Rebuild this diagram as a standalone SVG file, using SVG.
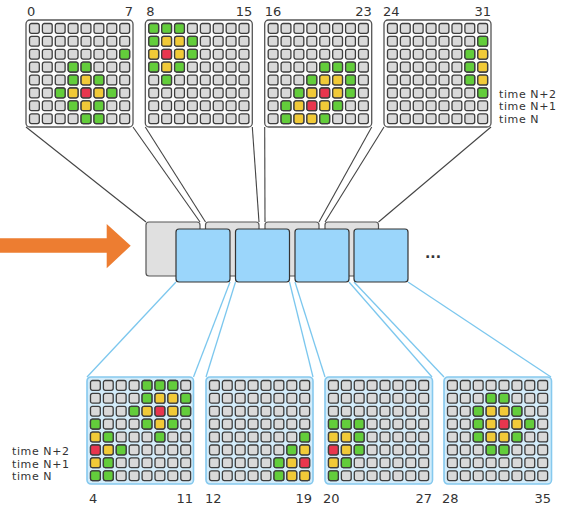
<svg xmlns="http://www.w3.org/2000/svg" xmlns:xlink="http://www.w3.org/1999/xlink" width="568" height="509" viewBox="0 0 568 509">
  <style>
    text { font-family: "DejaVu Sans", "Liberation Sans", sans-serif; fill: #333; }
    .num { font-size: 13px; }
    .time { font-size: 11px; letter-spacing: 0.6px; }
    .tp { fill: #fbfbfb; stroke: #555; stroke-width: 1.3; }
    .bp { fill: #d3ecfa; stroke: #86c9ee; stroke-width: 1.6; }
    .gb { fill: #e0e0e0; stroke: #555; stroke-width: 1.2; }
    .bb { fill: #9bd6fb; stroke: #333; stroke-width: 1.2; }
    .n { fill: #d9d9d9; }
    .g { fill: #63cd3b; }
    .y { fill: #f1ca38; }
    .r { fill: #e8364e; }
    .lk { stroke: #444; stroke-width: 1.1; fill: none; }
    .lb { stroke: #7cc7ee; stroke-width: 1.3; fill: none; }
  </style>
  <defs>
    <rect id="c" width="9.8" height="9.8" rx="2" stroke="#3d3d3d" stroke-width="1.3"/>
    <g id="row">
      <use href="#c" class="n" x="3.5"/>
      <use href="#c" class="n" x="16.4"/>
      <use href="#c" class="n" x="29.3"/>
      <use href="#c" class="n" x="42.2"/>
      <use href="#c" class="n" x="55.1"/>
      <use href="#c" class="n" x="68"/>
      <use href="#c" class="n" x="80.9"/>
      <use href="#c" class="n" x="93.8"/>
    </g>
    <g id="grid">
      <use href="#row" y="3.5"/>
      <use href="#row" y="16.4"/>
      <use href="#row" y="29.3"/>
      <use href="#row" y="42.2"/>
      <use href="#row" y="55.1"/>
      <use href="#row" y="68"/>
      <use href="#row" y="80.9"/>
      <use href="#row" y="93.8"/>
    </g>
  </defs>

  <!-- connectors -->
  <g id="connectors">
    <line class="lk" x1="26" y1="127" x2="146" y2="222"/>
    <line class="lk" x1="133" y1="127" x2="200" y2="222"/>
    <line class="lk" x1="145.3" y1="127" x2="205.5" y2="222"/>
    <line class="lk" x1="252.3" y1="127" x2="259" y2="222"/>
    <line class="lk" x1="264.7" y1="127" x2="265" y2="222"/>
    <line class="lk" x1="371.7" y1="127" x2="319" y2="222"/>
    <line class="lk" x1="384" y1="127" x2="325" y2="222"/>
    <line class="lk" x1="491" y1="127" x2="378.5" y2="222"/>

    <line class="lb" x1="176" y1="282" x2="87" y2="377"/>
    <line class="lb" x1="230" y1="282" x2="193.5" y2="377"/>
    <line class="lb" x1="235.5" y1="282" x2="206" y2="377"/>
    <line class="lb" x1="289.5" y1="282" x2="313" y2="377"/>
    <line class="lb" x1="295" y1="282" x2="325" y2="377"/>
    <line class="lb" x1="349" y1="282" x2="432" y2="377"/>
    <line class="lb" x1="354" y1="282" x2="444" y2="377"/>
    <line class="lb" x1="408" y1="282" x2="551" y2="377"/>
  </g>

  <!-- input arrow -->
  <polygon id="arrow" fill="#ed7d31" points="0,238.3 106.7,238.3 106.7,224 130.7,245.7 106.7,268.3 106.7,252.7 0,252.7"/>

  <!-- frame strip: grey back row, blue front row -->
  <g id="strip-back">
    <rect class="gb" x="146" y="222" width="54" height="54" rx="3"/>
    <rect class="gb" x="205.5" y="222" width="53.5" height="54" rx="3"/>
    <rect class="gb" x="265" y="222" width="54" height="54" rx="3"/>
    <rect class="gb" x="325" y="222" width="53.5" height="54" rx="3"/>
  </g>
  <g id="strip-front">
    <rect class="bb" x="176" y="229" width="54" height="53" rx="3"/>
    <rect class="bb" x="235.5" y="229" width="54" height="53" rx="3"/>
    <rect class="bb" x="295" y="229" width="54" height="53" rx="3"/>
    <rect class="bb" x="354" y="229" width="54" height="53" rx="3"/>
  </g>
  <text id="ellipsis" x="433" y="258" text-anchor="middle" style="font-size:14px;font-weight:bold">...</text>

  <!-- top panels -->
  <g id="top-0" transform="translate(26,20)">
    <rect class="tp" width="107" height="107" rx="4"/>
    <use href="#grid"/>
    <use href="#c" class="g" x="93.8" y="29.3"/>
    <use href="#c" class="g" x="42.2" y="42.2"/><use href="#c" class="g" x="55.1" y="42.2"/>
    <use href="#c" class="g" x="42.2" y="55.1"/><use href="#c" class="y" x="55.1" y="55.1"/><use href="#c" class="g" x="68" y="55.1"/>
    <use href="#c" class="g" x="29.3" y="68"/><use href="#c" class="y" x="42.2" y="68"/><use href="#c" class="r" x="55.1" y="68"/><use href="#c" class="y" x="68" y="68"/><use href="#c" class="g" x="80.9" y="68"/>
    <use href="#c" class="g" x="42.2" y="80.9"/><use href="#c" class="y" x="55.1" y="80.9"/><use href="#c" class="g" x="68" y="80.9"/>
    <use href="#c" class="g" x="55.1" y="93.8"/><use href="#c" class="g" x="68" y="93.8"/>
    <text class="num" x="1" y="-4">0</text>
    <text class="num" x="107" y="-4" text-anchor="end">7</text>
  </g>

  <g id="top-1" transform="translate(145.3,20)">
    <rect class="tp" width="107" height="107" rx="4"/>
    <use href="#grid"/>
    <use href="#c" class="g" x="3.5" y="3.5"/><use href="#c" class="g" x="16.4" y="3.5"/><use href="#c" class="g" x="29.3" y="3.5"/>
    <use href="#c" class="g" x="3.5" y="16.4"/><use href="#c" class="y" x="16.4" y="16.4"/><use href="#c" class="y" x="29.3" y="16.4"/><use href="#c" class="g" x="42.2" y="16.4"/>
    <use href="#c" class="y" x="3.5" y="29.3"/><use href="#c" class="r" x="16.4" y="29.3"/><use href="#c" class="y" x="29.3" y="29.3"/><use href="#c" class="g" x="42.2" y="29.3"/>
    <use href="#c" class="g" x="3.5" y="42.2"/><use href="#c" class="y" x="16.4" y="42.2"/><use href="#c" class="g" x="29.3" y="42.2"/>
    <use href="#c" class="g" x="16.4" y="55.1"/>
    <text class="num" x="1" y="-4">8</text>
    <text class="num" x="107" y="-4" text-anchor="end">15</text>
  </g>

  <g id="top-2" transform="translate(264.7,20)">
    <rect class="tp" width="107" height="107" rx="4"/>
    <use href="#grid"/>
    <use href="#c" class="g" x="55.1" y="42.2"/><use href="#c" class="g" x="68" y="42.2"/><use href="#c" class="g" x="80.9" y="42.2"/>
    <use href="#c" class="g" x="42.2" y="55.1"/><use href="#c" class="y" x="55.1" y="55.1"/><use href="#c" class="y" x="68" y="55.1"/><use href="#c" class="g" x="80.9" y="55.1"/>
    <use href="#c" class="g" x="29.3" y="68"/><use href="#c" class="y" x="42.2" y="68"/><use href="#c" class="r" x="55.1" y="68"/><use href="#c" class="y" x="68" y="68"/><use href="#c" class="g" x="80.9" y="68"/>
    <use href="#c" class="g" x="16.4" y="80.9"/><use href="#c" class="y" x="29.3" y="80.9"/><use href="#c" class="r" x="42.2" y="80.9"/><use href="#c" class="y" x="55.1" y="80.9"/><use href="#c" class="g" x="68" y="80.9"/>
    <use href="#c" class="g" x="16.4" y="93.8"/><use href="#c" class="y" x="29.3" y="93.8"/><use href="#c" class="y" x="42.2" y="93.8"/><use href="#c" class="g" x="55.1" y="93.8"/>
    <text class="num" x="0" y="-4">16</text>
    <text class="num" x="107" y="-4" text-anchor="end">23</text>
  </g>

  <g id="top-3" transform="translate(384,20)">
    <rect class="tp" width="107" height="107" rx="4"/>
    <use href="#grid"/>
    <use href="#c" class="g" x="93.8" y="16.4"/>
    <use href="#c" class="g" x="80.9" y="29.3"/><use href="#c" class="y" x="93.8" y="29.3"/>
    <use href="#c" class="g" x="80.9" y="42.2"/><use href="#c" class="y" x="93.8" y="42.2"/>
    <use href="#c" class="g" x="80.9" y="55.1"/><use href="#c" class="y" x="93.8" y="55.1"/>
    <use href="#c" class="g" x="93.8" y="68"/>
    <text class="num" x="-1" y="-4">24</text>
    <text class="num" x="107" y="-4" text-anchor="end">31</text>
  </g>

  <!-- time legend, three lines in one block -->
  <text id="top-time" class="time">
    <tspan x="499" y="97.5">time N+2</tspan>
    <tspan x="499" y="110">time N+1</tspan>
    <tspan x="499" y="122.5">time N</tspan>
  </text>

  <!-- bottom panels -->
  <g id="bottom-0" transform="translate(87,377)">
    <rect class="bp" width="106.5" height="107" rx="4"/>
    <use href="#grid"/>
    <use href="#c" class="g" x="55.1" y="3.5"/><use href="#c" class="g" x="68" y="3.5"/><use href="#c" class="g" x="80.9" y="3.5"/>
    <use href="#c" class="g" x="55.1" y="16.4"/><use href="#c" class="y" x="68" y="16.4"/><use href="#c" class="y" x="80.9" y="16.4"/><use href="#c" class="g" x="93.8" y="16.4"/>
    <use href="#c" class="g" x="42.2" y="29.3"/><use href="#c" class="y" x="55.1" y="29.3"/><use href="#c" class="r" x="68" y="29.3"/><use href="#c" class="y" x="80.9" y="29.3"/><use href="#c" class="g" x="93.8" y="29.3"/>
    <use href="#c" class="g" x="3.5" y="42.2"/><use href="#c" class="g" x="55.1" y="42.2"/><use href="#c" class="y" x="68" y="42.2"/><use href="#c" class="g" x="80.9" y="42.2"/>
    <use href="#c" class="y" x="3.5" y="55.1"/><use href="#c" class="g" x="16.4" y="55.1"/><use href="#c" class="g" x="68" y="55.1"/>
    <use href="#c" class="r" x="3.5" y="68"/><use href="#c" class="y" x="16.4" y="68"/><use href="#c" class="g" x="29.3" y="68"/>
    <use href="#c" class="y" x="3.5" y="80.9"/><use href="#c" class="g" x="16.4" y="80.9"/>
    <use href="#c" class="g" x="3.5" y="93.8"/><use href="#c" class="g" x="16.4" y="93.8"/>
    <text class="num" x="2" y="126">4</text>
    <text class="num" x="106" y="126" text-anchor="end">11</text>
  </g>

  <g id="bottom-1" transform="translate(206,377)">
    <rect class="bp" width="107" height="107" rx="4"/>
    <use href="#grid"/>
    <use href="#c" class="g" x="93.8" y="55.1"/>
    <use href="#c" class="g" x="80.9" y="68"/><use href="#c" class="y" x="93.8" y="68"/>
    <use href="#c" class="g" x="68" y="80.9"/><use href="#c" class="y" x="80.9" y="80.9"/><use href="#c" class="r" x="93.8" y="80.9"/>
    <use href="#c" class="g" x="68" y="93.8"/><use href="#c" class="y" x="80.9" y="93.8"/><use href="#c" class="y" x="93.8" y="93.8"/>
    <text class="num" x="-1" y="126">12</text>
    <text class="num" x="106" y="126" text-anchor="end">19</text>
  </g>

  <g id="bottom-2" transform="translate(325,377)">
    <rect class="bp" width="107.5" height="107" rx="4"/>
    <use href="#grid"/>
    <use href="#c" class="g" x="3.5" y="42.2"/><use href="#c" class="g" x="16.4" y="42.2"/><use href="#c" class="g" x="29.3" y="42.2"/>
    <use href="#c" class="y" x="3.5" y="55.1"/><use href="#c" class="y" x="16.4" y="55.1"/><use href="#c" class="g" x="29.3" y="55.1"/>
    <use href="#c" class="r" x="3.5" y="68"/><use href="#c" class="y" x="16.4" y="68"/><use href="#c" class="g" x="29.3" y="68"/>
    <use href="#c" class="y" x="3.5" y="80.9"/><use href="#c" class="g" x="16.4" y="80.9"/>
    <use href="#c" class="g" x="3.5" y="93.8"/>
    <text class="num" x="-2" y="126">20</text>
    <text class="num" x="107" y="126" text-anchor="end">27</text>
  </g>

  <g id="bottom-3" transform="translate(444,377)">
    <rect class="bp" width="107.5" height="107" rx="4"/>
    <use href="#grid"/>
    <use href="#c" class="g" x="42.2" y="16.4"/><use href="#c" class="g" x="55.1" y="16.4"/>
    <use href="#c" class="g" x="29.3" y="29.3"/><use href="#c" class="y" x="42.2" y="29.3"/><use href="#c" class="y" x="55.1" y="29.3"/><use href="#c" class="g" x="68" y="29.3"/>
    <use href="#c" class="g" x="29.3" y="42.2"/><use href="#c" class="y" x="42.2" y="42.2"/><use href="#c" class="r" x="55.1" y="42.2"/><use href="#c" class="y" x="68" y="42.2"/><use href="#c" class="g" x="80.9" y="42.2"/>
    <use href="#c" class="g" x="29.3" y="55.1"/><use href="#c" class="y" x="42.2" y="55.1"/><use href="#c" class="y" x="55.1" y="55.1"/><use href="#c" class="g" x="68" y="55.1"/>
    <use href="#c" class="g" x="42.2" y="68"/><use href="#c" class="g" x="55.1" y="68"/>
    <text class="num" x="-2" y="126">28</text>
    <text class="num" x="107" y="126" text-anchor="end">35</text>
  </g>

  <text id="bottom-time" class="time">
    <tspan x="12" y="455">time N+2</tspan>
    <tspan x="12" y="467.5">time N+1</tspan>
    <tspan x="12" y="480">time N</tspan>
  </text>
</svg>
